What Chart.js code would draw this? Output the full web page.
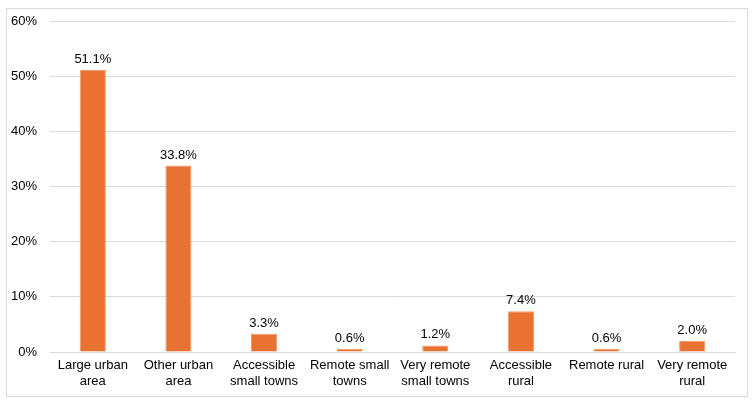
<!DOCTYPE html>
<html>
<head>
<meta charset="utf-8">
<script src="https://cdn.jsdelivr.net/npm/chart.js@4"></script>
<style>
  html, body { margin: 0; padding: 0; background: #fff; }
  #wrap {
    position: absolute; left: 6px; top: 8px;
    width: 740px; height: 387px;
    border: 1px solid #d9d9d9;
  }
</style>
</head>
<body>
<div id="wrap"><canvas id="chart"></canvas></div>
<script>
const categories = [
  ["Large urban", "area"],
  ["Other urban", "area"],
  ["Accessible", "small towns"],
  ["Remote small", "towns"],
  ["Very remote", "small towns"],
  ["Accessible", "rural"],
  ["Remote rural"],
  ["Very remote", "rural"]
];
const shares = [51.1, 33.8, 3.3, 0.6, 1.2, 7.4, 0.6, 2.0];
const yTicks = [0, 10, 20, 30, 40, 50, 60];

const FONT = "'Liberation Sans', Arial, sans-serif";

// Value labels above each bar
const valueLabels = {
  id: 'valueLabels',
  afterDatasetsDraw(chart) {
    const ctx = chart.ctx;
    const meta = chart.getDatasetMeta(0);
    ctx.save();
    ctx.font = '13px ' + FONT;
    ctx.fillStyle = '#000';
    ctx.textAlign = 'center';
    ctx.textBaseline = 'bottom';
    meta.data.forEach((bar, i) => {
      ctx.fillText(shares[i].toFixed(1) + '%', bar.x, bar.y - 4);
    });
    ctx.restore();
  }
};

new Chart(document.getElementById('chart'), {
  type: 'bar',
  data: {
    labels: categories,
    datasets: [{
      data: shares,
      backgroundColor: '#E97132',
      borderColor: '#F29A66',
      borderWidth: 1,
      barPercentage: 0.61,
      categoryPercentage: 0.5
    }]
  },
  options: {
    responsive: true,
    maintainAspectRatio: false,
    animation: false,
    layout: { autoPadding: false, padding: { top: 12, right: 12, bottom: 0, left: 0 } },
    plugins: {
      legend: { display: false },
      tooltip: { enabled: false }
    },
    scales: {
      x: {
        grid: { display: false },
        border: { display: true, color: '#d9d9d9' },
        ticks: {
          color: '#000',
          font: { family: FONT, size: 13 },
          maxRotation: 0,
          autoSkip: false,
          padding: -2
        },
        afterFit(scale) {
          scale.height = 44;
          scale.paddingLeft = 0; scale.paddingRight = 0;
        }
      },
      y: {
        min: 0,
        max: 60,
        afterBuildTicks(scale) { scale.ticks = yTicks.map(v => ({ value: v })); },
        grid: { color: '#d9d9d9', drawTicks: false },
        border: { display: false },
        ticks: {
          color: '#000',
          font: { family: FONT, size: 13 },
          padding: 13,
          callback: v => v + '%'
        },
        afterFit(scale) {
          scale.width = 43;
          scale.paddingTop = 0; scale.paddingBottom = 0;
        }
      }
    }
  },
  plugins: [valueLabels]
});
</script>
</body>
</html>
